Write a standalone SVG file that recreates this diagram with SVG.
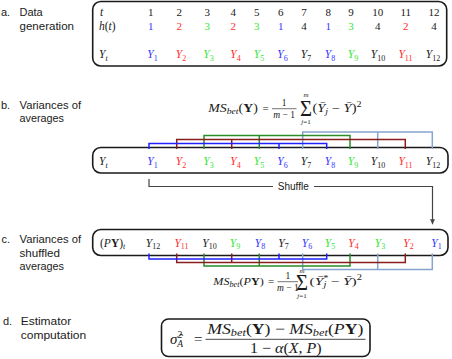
<svg xmlns="http://www.w3.org/2000/svg" width="452" height="359" viewBox="0 0 452 359">
<defs>
<style>
.lbl{font-family:"Liberation Sans",Arial,sans-serif;font-size:11px;fill:#1a1a1a}
.m{font-family:"Liberation Serif","DejaVu Serif","Times New Roman",serif;fill:#1a1a1a}
.row{font-size:11.5px}
.dig{font-size:11px}
.i{font-style:italic}
.s{font-size:8px}
.box{fill:none;stroke:#1a1a1a;stroke-width:1.6}
.k1{fill:#3535ff}.k2{fill:#ff2c2c}.k3{fill:#33e633}.k4{fill:#1a1a1a}
.br{fill:none;stroke-width:1.5}
.g1{stroke:#2222ff}.g2{stroke:#8b1c1c}.g3{stroke:#2a8c2a}.g4{stroke:#86a4d0}
.sh{fill:none;stroke:#444;stroke-width:1.2}
</style>
<marker id="ah" viewBox="0 0 10 10" refX="10" refY="5" markerWidth="6" markerHeight="5" orient="auto" markerUnits="userSpaceOnUse"><path d="M0,0 L10,5 L0,10z" fill="#444"/></marker>
</defs>
<rect width="452" height="359" fill="#fff"/>

<g id="labels">
<text class="lbl" x="1" y="16">a.</text>
<text class="lbl" x="19.5" y="16">Data</text>
<text class="lbl" x="19.5" y="30" textLength="54.5" lengthAdjust="spacingAndGlyphs">generation</text>
<text class="lbl" x="1" y="109">b.</text>
<text class="lbl" x="19.5" y="109" textLength="61.5" lengthAdjust="spacingAndGlyphs">Variances of</text>
<text class="lbl" x="19.5" y="122" textLength="44.5" lengthAdjust="spacingAndGlyphs">averages</text>
<text class="lbl" x="1.5" y="243">c.</text>
<text class="lbl" x="19.5" y="243" textLength="61.5" lengthAdjust="spacingAndGlyphs">Variances of</text>
<text class="lbl" x="19.5" y="256.5" textLength="40.5" lengthAdjust="spacingAndGlyphs">shuffled</text>
<text class="lbl" x="19.5" y="270" textLength="44.5" lengthAdjust="spacingAndGlyphs">averages</text>
<text class="lbl" x="3" y="325">d.</text>
<text class="lbl" x="20.7" y="325" textLength="50.5" lengthAdjust="spacingAndGlyphs">Estimator</text>
<text class="lbl" x="20.7" y="339" textLength="65.5" lengthAdjust="spacingAndGlyphs">computation</text>
</g>

<g id="box-a">
<rect class="box" x="92.7" y="1.5" width="354" height="64.5" rx="8"/>
<text class="m row i" x="100" y="15.5">t</text>
<text class="m row" x="99" y="29.5"><tspan class="i">h</tspan>(<tspan class="i">t</tspan>)</text>
<text class="m row" x="99" y="58"><tspan class="i">Y</tspan><tspan class="s i" dy="2.5">t</tspan></text>
<g class="m dig" text-anchor="middle">
<text x="150.7" y="15.5">1</text><text x="179.3" y="15.5">2</text><text x="207.3" y="15.5">3</text><text x="233.3" y="15.5">4</text><text x="256.7" y="15.5">5</text><text x="280.7" y="15.5">6</text><text x="304" y="15.5">7</text><text x="328.3" y="15.5">8</text><text x="351" y="15.5">9</text><text x="377.7" y="15.5">10</text><text x="405.7" y="15.5">11</text><text x="434" y="15.5">12</text>
<text class="k1" x="150.7" y="29.5">1</text><text class="k2" x="179.3" y="29.5">2</text><text class="k3" x="207.3" y="29.5">3</text><text class="k2" x="233.3" y="29.5">2</text><text class="k3" x="256.7" y="29.5">3</text><text class="k1" x="280.7" y="29.5">1</text><text class="k4" x="304" y="29.5">4</text><text class="k1" x="328.3" y="29.5">1</text><text class="k3" x="351" y="29.5">3</text><text class="k4" x="377.7" y="29.5">4</text><text class="k2" x="405.7" y="29.5">2</text><text class="k4" x="434" y="29.5">4</text>
</g>
<g class="m row" text-anchor="middle">
<text class="k1" x="152.5" y="58"><tspan class="i">Y</tspan><tspan class="s" dy="2.5">1</tspan></text>
<text class="k2" x="181" y="58"><tspan class="i">Y</tspan><tspan class="s" dy="2.5">2</tspan></text>
<text class="k3" x="208.5" y="58"><tspan class="i">Y</tspan><tspan class="s" dy="2.5">3</tspan></text>
<text class="k2" x="235.5" y="58"><tspan class="i">Y</tspan><tspan class="s" dy="2.5">4</tspan></text>
<text class="k3" x="259" y="58"><tspan class="i">Y</tspan><tspan class="s" dy="2.5">5</tspan></text>
<text class="k1" x="282.5" y="58"><tspan class="i">Y</tspan><tspan class="s" dy="2.5">6</tspan></text>
<text class="k4" x="306" y="58"><tspan class="i">Y</tspan><tspan class="s" dy="2.5">7</tspan></text>
<text class="k1" x="330" y="58"><tspan class="i">Y</tspan><tspan class="s" dy="2.5">8</tspan></text>
<text class="k3" x="353" y="58"><tspan class="i">Y</tspan><tspan class="s" dy="2.5">9</tspan></text>
<text class="k4" x="378" y="58"><tspan class="i">Y</tspan><tspan class="s" dy="2.5">10</tspan></text>
<text class="k2" x="405.5" y="58"><tspan class="i">Y</tspan><tspan class="s" dy="2.5">11</tspan></text>
<text class="k4" x="433" y="58"><tspan class="i">Y</tspan><tspan class="s" dy="2.5">12</tspan></text>
</g>
</g>

<g id="formula-b" class="m">
<text x="208.3" y="111.5" font-size="11.5" textLength="49.5" lengthAdjust="spacingAndGlyphs"><tspan class="i">MS</tspan><tspan class="i" font-size="8" dy="2">bet</tspan><tspan dy="-2">(</tspan><tspan font-weight="bold">Y</tspan>)</text>
<text x="265.5" y="111.5" font-size="11" text-anchor="middle">=</text>
<text x="284.2" y="106" font-size="9.5" text-anchor="middle">1</text>
<line x1="272" y1="108.7" x2="296.5" y2="108.7" stroke="#1a1a1a" stroke-width="0.6"/>
<text x="284.2" y="117.5" font-size="9.5" text-anchor="middle"><tspan class="i">m</tspan> − 1</text>
<text x="306" y="115.8" font-size="24" text-anchor="middle" textLength="12" lengthAdjust="spacingAndGlyphs">Σ</text>
<text x="306" y="97" font-size="7" text-anchor="middle" class="i">m</text>
<text x="306" y="124" font-size="7" text-anchor="middle"><tspan class="i">j</tspan>=1</text>
<text x="312.5" y="111.5" font-size="11.5" textLength="49" lengthAdjust="spacingAndGlyphs">(<tspan class="i">Ȳ</tspan><tspan class="i" font-size="8" dy="2">j</tspan><tspan dy="-2"> − </tspan><tspan class="i">Ȳ</tspan>)<tspan font-size="8" dy="-4.5">2</tspan></text>
</g>

<g id="box-b">
<rect class="box" x="92.7" y="147.5" width="355.3" height="25.5" rx="8"/>
<text class="m row" x="99" y="165"><tspan class="i">Y</tspan><tspan class="s i" dy="2.5">t</tspan></text>
<g class="m row" text-anchor="middle">
<text class="k1" x="152.5" y="165"><tspan class="i">Y</tspan><tspan class="s" dy="2.5">1</tspan></text>
<text class="k2" x="181" y="165"><tspan class="i">Y</tspan><tspan class="s" dy="2.5">2</tspan></text>
<text class="k3" x="208.5" y="165"><tspan class="i">Y</tspan><tspan class="s" dy="2.5">3</tspan></text>
<text class="k2" x="235.5" y="165"><tspan class="i">Y</tspan><tspan class="s" dy="2.5">4</tspan></text>
<text class="k3" x="259" y="165"><tspan class="i">Y</tspan><tspan class="s" dy="2.5">5</tspan></text>
<text class="k1" x="282.5" y="165"><tspan class="i">Y</tspan><tspan class="s" dy="2.5">6</tspan></text>
<text class="k4" x="306" y="165"><tspan class="i">Y</tspan><tspan class="s" dy="2.5">7</tspan></text>
<text class="k1" x="330" y="165"><tspan class="i">Y</tspan><tspan class="s" dy="2.5">8</tspan></text>
<text class="k3" x="353" y="165"><tspan class="i">Y</tspan><tspan class="s" dy="2.5">9</tspan></text>
<text class="k4" x="378" y="165"><tspan class="i">Y</tspan><tspan class="s" dy="2.5">10</tspan></text>
<text class="k2" x="405.5" y="165"><tspan class="i">Y</tspan><tspan class="s" dy="2.5">11</tspan></text>
<text class="k4" x="433" y="165"><tspan class="i">Y</tspan><tspan class="s" dy="2.5">12</tspan></text>
</g>
</g>

<g id="box-c">
<rect class="box" x="92.7" y="229.5" width="355.3" height="26" rx="8"/>
<text class="m row" x="100" y="246.5">(<tspan class="i">P</tspan><tspan font-weight="bold">Y</tspan>)<tspan class="s i" dy="2.5">t</tspan></text>
<g class="m row" text-anchor="middle">
<text class="k4" x="153" y="246.5"><tspan class="i">Y</tspan><tspan class="s" dy="2.5">12</tspan></text>
<text class="k2" x="181.5" y="246.5"><tspan class="i">Y</tspan><tspan class="s" dy="2.5">11</tspan></text>
<text class="k4" x="209.5" y="246.5"><tspan class="i">Y</tspan><tspan class="s" dy="2.5">10</tspan></text>
<text class="k3" x="235" y="246.5"><tspan class="i">Y</tspan><tspan class="s" dy="2.5">9</tspan></text>
<text class="k1" x="260" y="246.5"><tspan class="i">Y</tspan><tspan class="s" dy="2.5">8</tspan></text>
<text class="k4" x="283.5" y="246.5"><tspan class="i">Y</tspan><tspan class="s" dy="2.5">7</tspan></text>
<text class="k1" x="307" y="246.5"><tspan class="i">Y</tspan><tspan class="s" dy="2.5">6</tspan></text>
<text class="k3" x="330" y="246.5"><tspan class="i">Y</tspan><tspan class="s" dy="2.5">5</tspan></text>
<text class="k2" x="353.5" y="246.5"><tspan class="i">Y</tspan><tspan class="s" dy="2.5">4</tspan></text>
<text class="k3" x="380" y="246.5"><tspan class="i">Y</tspan><tspan class="s" dy="2.5">3</tspan></text>
<text class="k2" x="408.5" y="246.5"><tspan class="i">Y</tspan><tspan class="s" dy="2.5">2</tspan></text>
<text class="k1" x="436.5" y="246.5"><tspan class="i">Y</tspan><tspan class="s" dy="2.5">1</tspan></text>
</g>
</g>

<g id="formula-c" class="m">
<text x="213.3" y="284.5" font-size="11" textLength="50.5" lengthAdjust="spacingAndGlyphs"><tspan class="i">MS</tspan><tspan class="i" font-size="7.5" dy="2">bet</tspan><tspan dy="-2">(</tspan><tspan class="i">P</tspan><tspan font-weight="bold">Y</tspan>)</text>
<text x="271" y="284.5" font-size="11" text-anchor="middle">=</text>
<text x="287.8" y="279" font-size="9.5" text-anchor="middle">1</text>
<line x1="277.5" y1="281.7" x2="298" y2="281.7" stroke="#1a1a1a" stroke-width="0.6"/>
<text x="287.8" y="290.5" font-size="9.5" text-anchor="middle"><tspan class="i">m</tspan> − 1</text>
<text x="302" y="290" font-size="24" text-anchor="middle" textLength="12" lengthAdjust="spacingAndGlyphs">Σ</text>
<text x="302" y="273" font-size="7" text-anchor="middle" class="i">m</text>
<text x="302" y="298" font-size="7" text-anchor="middle"><tspan class="i">j</tspan>=1</text>
<text x="309.5" y="284.5" font-size="11" textLength="52.5" lengthAdjust="spacingAndGlyphs">(<tspan class="i">Ȳ</tspan><tspan font-size="7.5" dy="-4">*</tspan><tspan class="i" font-size="7.5" dx="-3.5" dy="6">j</tspan><tspan dy="-2"> − </tspan><tspan class="i">Ȳ</tspan>)<tspan font-size="7.5" dy="-4.5">2</tspan></text>
</g>

<g id="box-d" class="m">
<rect class="box" x="161.5" y="319" width="208.5" height="37.5" rx="7"/>
<text x="170" y="343.5" font-size="15"><tspan class="i">σ̂</tspan><tspan font-size="9.5" dy="-6">2</tspan><tspan class="i" font-size="9.5" dx="-4.8" dy="9">A</tspan></text>
<text x="198.3" y="343.5" font-size="15" text-anchor="middle">=</text>
<text x="207.3" y="333.5" font-size="15" textLength="156" lengthAdjust="spacingAndGlyphs"><tspan class="i">MS</tspan><tspan class="i" font-size="10.5" dy="2.5">bet</tspan><tspan dy="-2.5">(</tspan><tspan font-weight="bold">Y</tspan>) − <tspan class="i">MS</tspan><tspan class="i" font-size="10.5" dy="2.5">bet</tspan><tspan dy="-2.5">(</tspan><tspan class="i">P</tspan><tspan font-weight="bold">Y</tspan>)</text>
<line x1="205.5" y1="339.3" x2="365.5" y2="339.3" stroke="#1a1a1a" stroke-width="0.8"/>
<text x="250" y="352.5" font-size="15" textLength="71.7" lengthAdjust="spacingAndGlyphs">1 − <tspan class="i">α</tspan>(<tspan class="i">X</tspan>, <tspan class="i">P</tspan>)</text>
</g>

<g id="connectors">
<path class="br g4" d="M302.7,149 V132 H432.3 V149 M377.7,132 V149"/>
<path class="br g3" d="M204,149 V135.5 H350 V149 M259.3,135.5 V149"/>
<path class="br g2" d="M176.7,149 V139.5 H405.3 V149 M231.7,139.5 V149"/>
<path class="br g1" d="M149,149 V143.5 H326.7 V149 M279,143.5 V149"/>
<path class="br g4" d="M302.7,253.5 V269.5 H432.3 V253.5 M377.7,269.5 V253.5"/>
<path class="br g3" d="M204,253.5 V266 H350 V253.5 M259.3,266 V253.5"/>
<path class="br g2" d="M176.7,253.5 V262.5 H405.3 V253.5 M231.7,262.5 V253.5"/>
<path class="br g1" d="M149,253.5 V259 H326.7 V253.5 M279,259 V253.5"/>
<path class="sh" d="M149,179 V186.5 H273"/>
<path class="sh" d="M314,186.5 H432.5 V224.3" marker-end="url(#ah)"/>
<text class="lbl" x="293.3" y="190" text-anchor="middle" style="font-size:10px">Shuffle</text>
</g>
</svg>
